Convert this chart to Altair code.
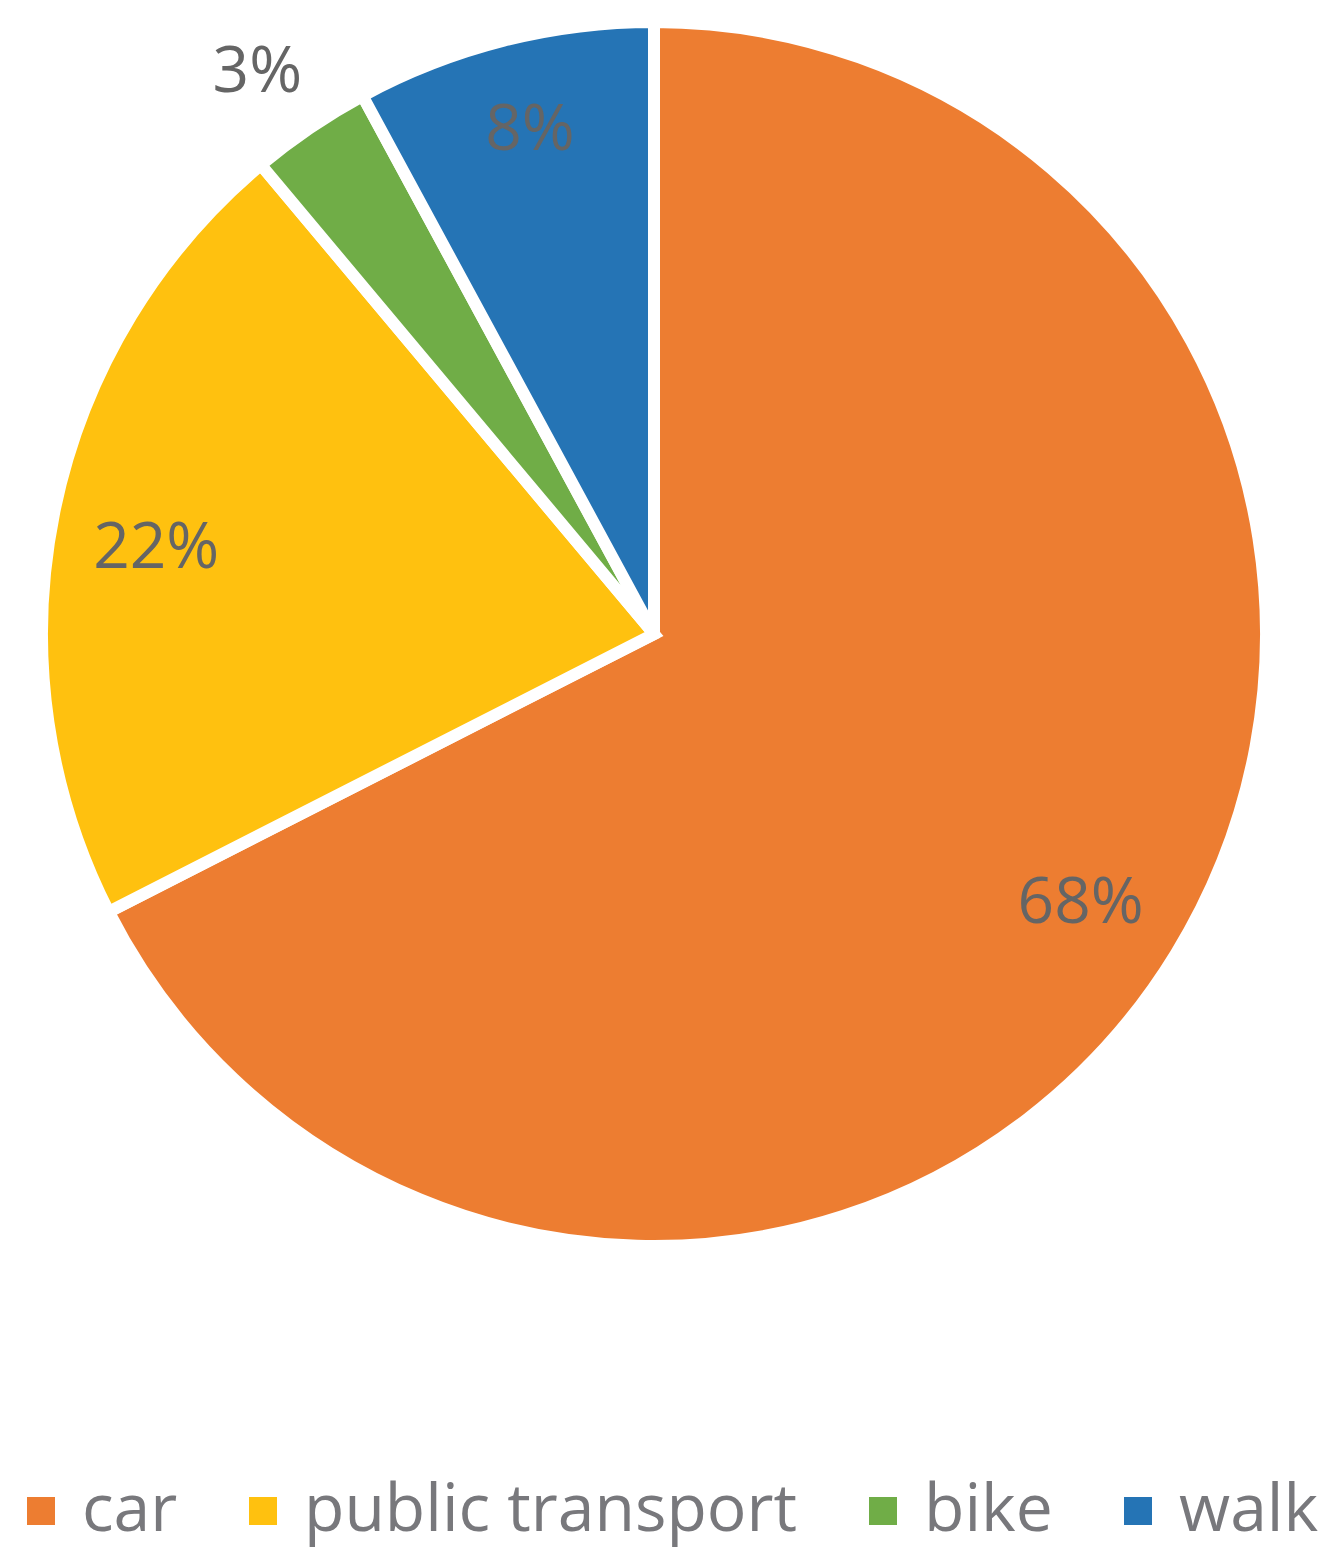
import altair as alt
import pandas as pd

categories = ["car", "public transport", "bike", "walk"]
shares = [67.5, 21.4, 3.2, 7.9]
labels = ["68%", "22%", "3%", "8%"]
colors = ["#ED7D31", "#FFC10F", "#70AD47", "#2574B5"]

df = pd.DataFrame({
    "mode": categories,
    "share": shares,
    "label": labels,
    "idx": list(range(len(categories))),
})

CX, CY, R = 646, 626, 612
FONT = "Open Sans"
TOTAL = float(sum(shares))

base = alt.Chart(df).encode(
    theta=alt.Theta("share:Q", stack=True),
    order=alt.Order("idx:Q"),
    x=alt.value(CX),
    y=alt.value(CY),
)

arcs = base.mark_arc(outerRadius=R, stroke="white", strokeWidth=12).encode(
    color=alt.Color(
        "mode:N",
        scale=alt.Scale(domain=categories, range=colors),
        sort=categories,
        legend=alt.Legend(
            title=None,
            orient="none",
            direction="horizontal",
            legendX=0,
            legendY=1470,
            symbolType="square",
            symbolSize=784,
            symbolStrokeWidth=0,
            labelFontSize=66,
            labelFont=FONT,
            labelColor="#78787C",
            labelOffset=8,
            columnPadding=52,
            labelLimit=1000,
            padding=0,
        ),
    )
)

lab_base = (
    alt.Chart(df)
    .transform_stack(stack="share", groupby=[], as_=["s0", "s1"], sort=[alt.SortField("idx")])
    .transform_calculate(mid="(datum.s0 + datum.s1) / 2")
    .encode(
        theta=alt.Theta("mid:Q", scale=alt.Scale(domain=[0, TOTAL]), stack=None),
        x=alt.value(CX),
        y=alt.value(CY),
        text="label:N",
    )
)

# label placement (radius, dx, dy) per slice, like Excel's best-fit placement
placement = {
    "car": (505, -4, 6),
    "public transport": (505, -3, 16),
    "bike": (688, -10, 8),
    "walk": (505, 0, -13),
}

text_layers = []
for mode in categories:
    r, ddx, ddy = placement[mode]
    text_layers.append(
        lab_base.transform_filter(alt.datum.mode == mode).mark_text(
            radius=r, dx=ddx, dy=ddy, fontSize=64, font=FONT, color="#656565"
        )
    )

chart = alt.layer(arcs, *text_layers).resolve_scale(theta="independent").properties(
    width=1323,
    height=1545,
    autosize=alt.AutoSizeParams(type="none"),
    padding=0,
).configure_view(stroke=None)

chart.save("out.html", embed_options={"renderer": "svg", "actions": False})
